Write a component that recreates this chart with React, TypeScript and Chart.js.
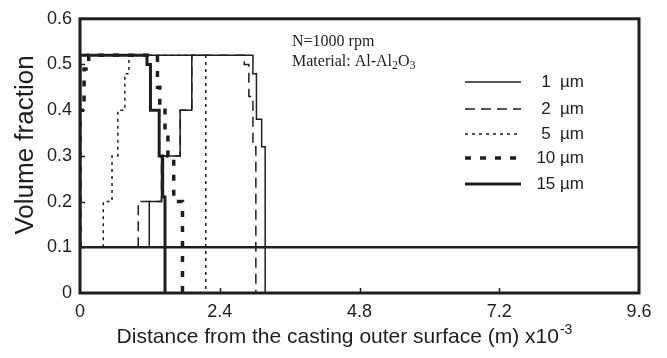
import React, { useEffect, useRef } from "react";
import { Chart, registerables } from "chart.js";

Chart.register(...registerables);

// ---- data ----
const xTicks = [0, 2.4, 4.8, 7.2, 9.6];
const xTickLabels = ["0", "2.4", "4.8", "7.2", "9.6"];
const yTicks = [0, 0.1, 0.2, 0.3, 0.4, 0.5, 0.6];
const yTickLabels = ["0", "0.1", "0.2", "0.3", "0.4", "0.5", "0.6"];

const seriesNames = ["1  µm", "2  µm", "5  µm", "10 µm", "15 µm"];

// 1 µm (null = break between the two branches)
const x1 = [1.19, 1.19, 1.4, 1.4, 1.72, 1.72, 1.92, 1.92, null, 0, 2.97, 2.97, 3.03, 3.03, 3.12, 3.12, 3.18, 3.18];
const y1 = [0.1, 0.2, 0.2, 0.3, 0.3, 0.4, 0.4, 0.52, null, 0.52, 0.52, 0.48, 0.48, 0.38, 0.38, 0.32, 0.32, 0];
// 2 µm
const x2 = [1.0, 1.0, 1.4, 1.4, 1.72, 1.72, 1.92, 1.92, 2.82, 2.82, 2.9, 2.9, 2.97, 2.97, 3.02, 3.02];
const y2 = [0.1, 0.2, 0.2, 0.3, 0.3, 0.4, 0.4, 0.52, 0.52, 0.5, 0.5, 0.43, 0.43, 0.32, 0.32, 0];
// 5 µm
const x5 = [0.4, 0.4, 0.55, 0.55, 0.65, 0.65, 0.77, 0.77, 0.84, 0.84, 2.16, 2.16];
const y5 = [0.1, 0.2, 0.2, 0.3, 0.3, 0.4, 0.4, 0.48, 0.48, 0.52, 0.52, 0];
// 10 µm
const x10 = [0, 0, 0.07, 0.07, 0.15, 0.15, 1.33, 1.33, 1.37, 1.37, 1.46, 1.46, 1.51, 1.51, 1.61, 1.61, 1.76, 1.76];
const y10 = [0.1, 0.4, 0.4, 0.49, 0.49, 0.52, 0.52, 0.45, 0.45, 0.41, 0.41, 0.35, 0.35, 0.3, 0.3, 0.2, 0.2, 0];
// 15 µm
const x15 = [0, 0, 1.15, 1.15, 1.21, 1.21, 1.36, 1.36, 1.42, 1.42, 1.46, 1.46];
const y15 = [0.1, 0.52, 0.52, 0.5, 0.5, 0.4, 0.4, 0.3, 0.3, 0.21, 0.21, 0];
// initial volume fraction line
const xInit = [0, 9.6];
const yInit = [0.1, 0.1];

const seriesX = [x1, x2, x5, x10, x15];
const seriesY = [y1, y2, y5, y10, y15];

// ---- styles ----
const INK = "#1e1e1e";
const seriesStyle = [
  { width: 1.5, dash: [] as number[] },
  { width: 1.5, dash: [10, 6] },
  { width: 1.5, dash: [3, 4] },
  { width: 3.5, dash: [6, 9] },
  { width: 3, dash: [] as number[] },
];

const SANS = "'Liberation Sans', Arial, sans-serif";
const SERIF = "'Liberation Serif', 'Times New Roman', serif";

const toPoints = (xs: (number | null)[], ys: (number | null)[]) =>
  xs.map((x, i) => ({ x, y: ys[i] }));

const decor = {
  id: "decor",
  afterDraw(chart: any) {
    const { ctx, chartArea: a, scales } = chart;
    const xs = scales.x;
    const ys = scales.y;
    ctx.save();
    ctx.strokeStyle = INK;
    ctx.fillStyle = INK;
    ctx.setLineDash([]);

    // inner ticks
    ctx.lineWidth = 1.5;
    ctx.beginPath();
    yTicks.slice(1, -1).forEach((v) => {
      const py = Math.round(ys.getPixelForValue(v)) + 0.5;
      ctx.moveTo(a.left, py);
      ctx.lineTo(a.left + 5, py);
    });
    xTicks.slice(1, -1).forEach((v) => {
      const px = Math.round(xs.getPixelForValue(v)) + 0.5;
      ctx.moveTo(px, a.bottom);
      ctx.lineTo(px, a.bottom - 5);
    });
    ctx.stroke();

    // frame
    ctx.lineWidth = 3;
    ctx.strokeRect(a.left, a.top, a.right - a.left, a.bottom - a.top);

    // y title
    ctx.save();
    ctx.translate(33, 145);
    ctx.rotate(-Math.PI / 2);
    ctx.font = `26px ${SANS}`;
    ctx.textAlign = "center";
    ctx.textBaseline = "alphabetic";
    ctx.fillText("Volume fraction", 0, 0);
    ctx.restore();

    // x title with superscript
    const main = "Distance from the casting outer surface (m) x10";
    const sup = "-3";
    ctx.font = `21px ${SANS}`;
    const wMain = ctx.measureText(main).width;
    ctx.font = `14px ${SANS}`;
    const wSup = ctx.measureText(sup).width;
    const startX = 344 - (wMain + wSup) / 2;
    ctx.textAlign = "left";
    ctx.textBaseline = "alphabetic";
    ctx.font = `21px ${SANS}`;
    ctx.fillText(main, startX, 343);
    ctx.font = `14px ${SANS}`;
    ctx.fillText(sup, startX + wMain + 1, 334);

    // annotations
    ctx.font = `16px ${SERIF}`;
    ctx.textBaseline = "middle";
    ctx.fillText("N=1000 rpm", 292, 42);
    let tx = 292;
    const ty = 62;
    const parts: [string, boolean][] = [
      ["Material: Al-Al", false],
      ["2", true],
      ["O", false],
      ["3", true],
    ];
    parts.forEach(([s, sub]) => {
      ctx.font = sub ? `12px ${SERIF}` : `16px ${SERIF}`;
      ctx.fillText(s, tx, sub ? ty + 4 : ty);
      tx += ctx.measureText(s).width;
    });

    // legend
    const rows = [82, 109, 134, 158, 184];
    seriesNames.forEach((name, i) => {
      const st = seriesStyle[i];
      const y = rows[i];
      ctx.lineWidth = st.width;
      ctx.setLineDash(st.dash);
      ctx.beginPath();
      ctx.moveTo(465, y);
      ctx.lineTo(521, y);
      ctx.stroke();
      ctx.setLineDash([]);
      ctx.font = `17px ${SANS}`;
      ctx.textAlign = "right";
      ctx.textBaseline = "middle";
      ctx.fillText(name, 584, y);
    });

    ctx.restore();
  },
};

export default function App() {
  const canvasRef = useRef<HTMLCanvasElement | null>(null);

  useEffect(() => {
    const canvas = canvasRef.current;
    if (!canvas) return;

    const datasets: any[] = seriesNames.map((name, i) => ({
      label: name,
      data: toPoints(seriesX[i], seriesY[i]),
      showLine: true,
      spanGaps: false,
      borderColor: INK,
      borderWidth: seriesStyle[i].width,
      borderDash: seriesStyle[i].dash,
      pointRadius: 0,
      pointHoverRadius: 0,
      tension: 0,
      fill: false,
    }));
    datasets.push({
      label: "initial",
      data: toPoints(xInit, yInit),
      showLine: true,
      borderColor: INK,
      borderWidth: 2.5,
      pointRadius: 0,
      tension: 0,
      fill: false,
    });

    const chart = new Chart(canvas, {
      type: "scatter",
      data: { datasets },
      options: {
        animation: false,
        responsive: false,
        devicePixelRatio: 1,
        layout: { padding: { left: 0, top: 16, right: 28, bottom: 0 } },
        plugins: {
          legend: { display: false },
          tooltip: { enabled: false },
        },
        scales: {
          x: {
            type: "linear",
            min: 0,
            max: 9.6,
            grid: { display: false, drawTicks: false },
            border: { display: false },
            afterBuildTicks: (scale: any) => {
              scale.ticks = xTicks.map((v) => ({ value: v }));
            },
            afterFit: (scale: any) => {
              scale.height = 65;
            },
            ticks: {
              padding: 8,
              color: INK,
              font: { family: SANS, size: 18 },
              maxRotation: 0,
              autoSkip: false,
              callback: (_v: any, i: number) => xTickLabels[i],
            },
          },
          y: {
            type: "linear",
            min: 0,
            max: 0.6,
            grid: { display: false, drawTicks: false },
            border: { display: false },
            afterBuildTicks: (scale: any) => {
              scale.ticks = yTicks.map((v) => ({ value: v }));
            },
            afterFit: (scale: any) => {
              scale.width = 80;
            },
            ticks: {
              padding: 8,
              color: INK,
              font: { family: SANS, size: 18 },
              autoSkip: false,
              callback: (_v: any, i: number) => yTickLabels[i],
            },
          },
        },
      },
      plugins: [decor],
    });

    return () => chart.destroy();
  }, []);

  return (
    <div style={{ position: "fixed", left: 0, top: 0, width: 667, height: 358, background: "#fff" }}>
      <canvas ref={canvasRef} width={667} height={358} style={{ display: "block" }} />
    </div>
  );
}
